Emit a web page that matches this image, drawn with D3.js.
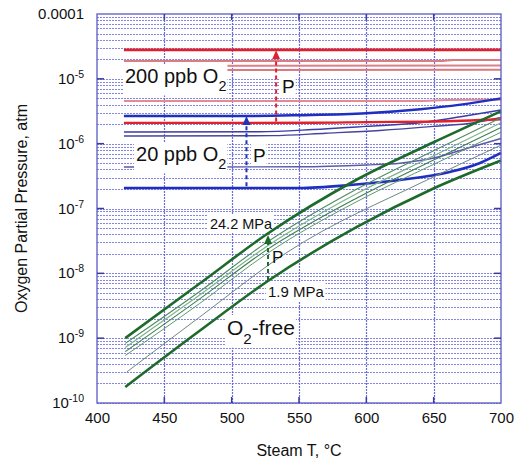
<!DOCTYPE html>
<html>
<head>
<meta charset="utf-8">
<script src="https://cdn.jsdelivr.net/npm/d3@7"></script>
<style>
  body { margin: 0; background: #fff; }
  svg { display: block; }
  text { font-family: "Liberation Sans", Arial, Helvetica, sans-serif; fill: #111; }
</style>
</head>
<body>
<svg id="chart" width="523" height="463"></svg>
<script>
// values, as [steam T in °C, pO2 in atm]
const xTicks = [400, 450, 500, 550, 600, 650, 700];
const yDecades = [-10, -9, -8, -7, -6, -5, -4];

// 200 ppb O2 (red)
const red200Top = [[420, 2.8e-5], [700, 2.8e-5]];
const red200A = [[420, 1.88e-5], [655, 1.88e-5], [665, 1.95e-5], [700, 1.95e-5]];
const red200B = [[420, 1.58e-5], [700, 1.6e-5]];
const red200C = [[420, 1.37e-5], [700, 1.38e-5]];
const red200D = [[420, 4.55e-6], [640, 4.55e-6], [660, 4.7e-6], [700, 4.75e-6]];
const red200Low = [[420, 2.09e-6], [560, 2.1e-6], [600, 2.15e-6], [650, 2.2e-6], [700, 2.38e-6]];

// 20 ppb O2 (blue)
const blue20Top = [[420, 2.67e-6], [510, 2.67e-6], [550, 2.75e-6], [600, 2.95e-6], [640, 3.4e-6], [670, 4.0e-6], [700, 5.0e-6]];
const blue20A = [[420, 1.51e-6], [520, 1.53e-6], [560, 1.65e-6], [600, 1.85e-6], [640, 2.1e-6], [670, 2.6e-6], [700, 3.3e-6]];
const blue20B = [[420, 1.31e-6], [530, 1.33e-6], [570, 1.45e-6], [610, 1.6e-6], [650, 1.85e-6], [680, 2.1e-6], [700, 2.55e-6]];
const blue20C = [[420, 4.36e-7], [550, 4.4e-7], [600, 4.7e-7], [625, 5.0e-7], [650, 6.0e-7], [675, 8.5e-7], [700, 1.2e-6]];
const blue20Low = [[420, 2.07e-7], [550, 2.07e-7], [588, 2.3e-7], [625, 2.75e-7], [662, 3.66e-7], [684, 5.0e-7], [700, 7.2e-7]];

// O2-free (green), 24.2 MPa down to 1.9 MPa
const freeHigh = [[421, 1.0e-9], [476, 6.9e-9], [526, 4.0e-8], [593, 2.8e-7], [650, 1.05e-6], [700, 3.16e-6]];
const freeA = [[421, 8.3e-10], [476, 5.2e-9], [526, 3.0e-8], [593, 2.0e-7], [650, 7.8e-7], [700, 2.5e-6]];
const freeB = [[421, 7.2e-10], [476, 4.6e-9], [526, 2.6e-8], [593, 1.7e-7], [650, 6.5e-7], [700, 2.1e-6]];
const freeC = [[421, 6.2e-10], [476, 4.0e-9], [526, 2.3e-8], [593, 1.45e-7], [650, 5.6e-7], [700, 1.78e-6]];
const freeD = [[421, 5.4e-10], [476, 3.4e-9], [526, 2.0e-8], [593, 1.28e-7], [650, 4.8e-7], [700, 1.5e-6]];
const freeGrey = [[422, 3.0e-10], [476, 2.1e-9], [541, 2.1e-8], [645, 2.75e-7], [700, 9.5e-7]];
const freeLow = [[421, 1.77e-10], [476, 1.29e-9], [528, 7.9e-9], [593, 5.2e-8], [649, 2.0e-7], [700, 5.5e-7]];

// pressure arrows: [T, from, to]
const arrowRed = [533, 2.2e-6, 2.75e-5];
const arrowBlue = [511, 2.2e-7, 2.67e-6];
const arrowGreen = [527, 7.9e-9, 3.9e-8];

const svg = d3.select('#chart');
const x = d3.scaleLinear().domain([400, 700]).range([97, 501]);
const y = d3.scaleLog().domain([1e-10, 1e-4]).range([403, 14]);
const crisp = v => Math.round(v) + 0.5;

// ---------- grid ----------
const gridVals = [];
yDecades.slice(0, -1).forEach(e => {
  for (let m = 1; m < 10; m++) gridVals.push(m * Math.pow(10, e));
});

const grid = svg.append('g');
grid.selectAll('line.h')
  .data(gridVals)
  .join('line')
  .attr('x1', x(400)).attr('x2', x(700))
  .attr('y1', d => crisp(y(d))).attr('y2', d => crisp(y(d)))
  .attr('stroke', '#8585e2')
  .attr('stroke-width', 1)
  .attr('stroke-dasharray', '2,1');

grid.selectAll('line.v')
  .data(xTicks.slice(1, -1))
  .join('line')
  .attr('x1', d => crisp(x(d))).attr('x2', d => crisp(x(d)))
  .attr('y1', y(1e-4)).attr('y2', y(1e-10))
  .attr('stroke', '#6c6cd6')
  .attr('stroke-width', 1.2)
  .attr('stroke-dasharray', '2,1');

// white boxes under some labels
const underBoxes = svg.append('g');

// ---------- lines ----------
const line = d3.line()
  .x(d => x(d[0]))
  .y(d => y(d[1]))
  .curve(d3.curveMonotoneX);

const series = [
  { d: red200A, c: '#de7b82', w: 2 },
  { d: red200B, c: '#d98088', w: 2 },
  { d: red200C, c: '#dc7880', w: 2 },
  { d: red200D, c: '#e68a92', w: 2 },
  { d: blue20A, c: '#3b3ba6', w: 1.4 },
  { d: blue20B, c: '#44449e', w: 1.4 },
  { d: blue20C, c: '#5a5aa8', w: 1.4 },
  { d: red200Low, c: '#e0202c', w: 2.4 },
  { d: red200Top, c: '#e0202c', w: 2.6 },
  { d: blue20Top, c: '#1f2fbf', w: 2.4 },
  { d: blue20Low, c: '#1f2fbf', w: 2.6 },
  { d: freeGrey, c: '#6f8883', w: 1 },
  { d: freeD, c: '#5f9a6e', w: 1 },
  { d: freeC, c: '#3f7f50', w: 1.1 },
  { d: freeB, c: '#7fb38c', w: 1.2 },
  { d: freeA, c: '#4f8c5f', w: 1.1 },
  { d: freeLow, c: '#1d6a2a', w: 2.6 },
  { d: freeHigh, c: '#1d6a2a', w: 2.6 },
];

svg.append('g')
  .selectAll('path')
  .data(series)
  .join('path')
  .attr('d', s => line(s.d))
  .attr('fill', 'none')
  .attr('stroke', s => s.c)
  .attr('stroke-width', s => s.w)
  .attr('stroke-linejoin', 'round');

// ---------- arrows ----------
function drawArrow(a, color) {
  const [t, from, to] = a;
  const ax = x(t), y0 = y(from), y1 = y(to);
  svg.append('line')
    .attr('x1', ax).attr('x2', ax)
    .attr('y1', y0).attr('y2', y1 + 7)
    .attr('stroke', color)
    .attr('stroke-width', 2)
    .attr('stroke-dasharray', '4,3');
  svg.append('path')
    .attr('d', `M${ax},${y1} L${ax - 4},${y1 + 9} L${ax + 4},${y1 + 9} Z`)
    .attr('fill', color);
}
drawArrow(arrowRed, '#e0202c');
drawArrow(arrowBlue, '#2233bb');
drawArrow(arrowGreen, '#1d6a2a');

// ---------- border and ticks ----------
svg.append('rect')
  .attr('x', x(400)).attr('y', y(1e-4))
  .attr('width', x(700) - x(400)).attr('height', y(1e-10) - y(1e-4))
  .attr('fill', 'none')
  .attr('stroke', '#5a5ac4')
  .attr('stroke-width', 1.3);

const tickG = svg.append('g').attr('stroke', '#3a3aa8').attr('stroke-width', 1.5);
yDecades.slice(1, -1).forEach(e => {
  const ty = y(Math.pow(10, e));
  tickG.append('line').attr('x1', x(400)).attr('x2', x(400) + 7).attr('y1', ty).attr('y2', ty);
  tickG.append('line').attr('x1', x(700)).attr('x2', x(700) - 7).attr('y1', ty).attr('y2', ty);
});
xTicks.slice(1, -1).forEach(t => {
  tickG.append('line').attr('x1', x(t)).attr('x2', x(t)).attr('y1', y(1e-10)).attr('y2', y(1e-10) - 6);
  tickG.append('line').attr('x1', x(t)).attr('x2', x(t)).attr('y1', y(1e-4)).attr('y2', y(1e-4) + 6);
});

// ---------- axis labels ----------
const xAxis = d3.axisBottom(x).tickValues(xTicks).tickSize(0).tickPadding(9).tickFormat(d3.format('d'));
const gx = svg.append('g').attr('transform', `translate(0,${y(1e-10)})`).call(xAxis);
gx.select('.domain').remove();
gx.selectAll('text')
  .attr('font-size', 15)
  .attr('font-family', '"Liberation Sans", Arial, sans-serif')
  .attr('fill', '#111');

yDecades.forEach(e => {
  const t = svg.append('text')
    .attr('x', 84)
    .attr('y', y(Math.pow(10, e)) + 5)
    .attr('text-anchor', 'end')
    .attr('font-size', 15);
  if (e === -4) {
    t.text('0.0001');
  } else {
    t.append('tspan').text('10');
    t.append('tspan').attr('dy', -6).attr('font-size', 10.5).text(String(e));
  }
});

svg.append('text')
  .attr('transform', `translate(27,${(y(1e-4) + y(1e-10)) / 2}) rotate(-90)`)
  .attr('text-anchor', 'middle')
  .attr('font-size', 16)
  .text('Oxygen Partial Pressure, atm');

svg.append('text')
  .attr('x', (x(400) + x(700)) / 2)
  .attr('y', 456)
  .attr('text-anchor', 'middle')
  .attr('font-size', 16)
  .text('Steam T, °C');

// ---------- annotations ----------
// [text, subscript, tail, T, pO2 at baseline, font size, box on top of lines]
const notes = [
  ['200 ppb O', '2', '', 420.8, 8.6e-6, 20, true],
  ['20 ppb O', '2', '', 429, 5.4e-7, 20, true],
  ['P', '', '', 537.4, 6.0e-6, 19, false],
  ['P', '', '', 515.8, 5.2e-7, 19, false],
  ['24.2 MPa', '', '', 483.9, 4.83e-8, 14.5, false],
  ['P', '', '', 530, 1.44e-8, 17, false],
  ['1.9 MPa', '', '', 527, 4.3e-9, 15, false],
  ['O', '2', '-free', 496.5, 1.12e-9, 21, false],
];

const labelG = svg.append('g');
notes.forEach(([main, sub, tail, t, p, fs, onTop]) => {
  const g = labelG.append('g');
  const txt = g.append('text')
    .attr('x', x(t))
    .attr('y', y(p))
    .attr('font-size', fs);
  txt.append('tspan').text(main);
  if (sub) txt.append('tspan').attr('dy', fs * 0.42).attr('font-size', fs * 0.72).text(sub);
  if (tail) txt.append('tspan').attr('dy', -fs * 0.42).text(tail);
  const bb = txt.node().getBBox();
  const target = onTop ? g : underBoxes;
  target.insert('rect', ':first-child')
    .attr('x', bb.x - 2).attr('y', bb.y - 1)
    .attr('width', bb.width + 3).attr('height', bb.height + 2)
    .attr('fill', '#fff');
});
</script>
</body>
</html>
